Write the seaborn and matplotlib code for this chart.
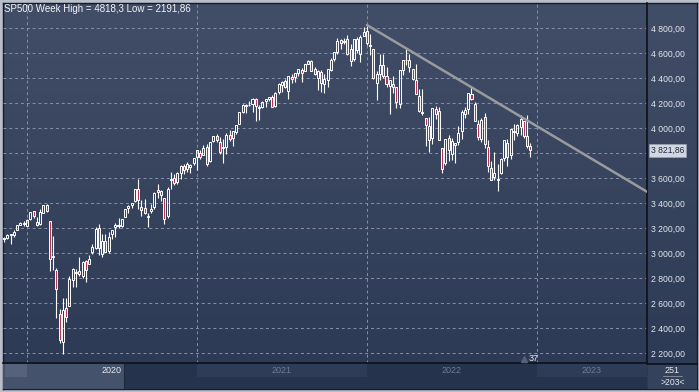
import numpy as np
import pandas as pd
import matplotlib
matplotlib.use("Agg")
import matplotlib.pyplot as plt
import matplotlib.transforms as mtrans
from matplotlib.colors import LinearSegmentedColormap
from matplotlib.lines import Line2D
import seaborn as sns

# weekly SP500 candles, week of 18 Nov 2019 up to week of 19 Dec 2022
opens = [3117, 3117, 3144, 3141, 3183, 3226, 3240,
         # 2020
         3218, 3271, 3333, 3248, 3235, 3318, 3380, 3257, 2974, 2863, 2509, 2291, 2558,
         2578, 2782, 2846, 2854, 2816, 2938, 2914, 3005, 3038, 3199, 2994, 3094, 3018,
         3155, 3205, 3224, 3219, 3289, 3356, 3380, 3418, 3509, 3370, 3363, 3285, 3335,
         3367, 3500, 3494, 3441, 3296, 3583, 3600, 3566, 3641, 3694, 3675, 3684, 3723,
         # 2021
         3764, 3803, 3781, 3851, 3732, 3892, 3939, 3886, 3842, 3844, 3942, 3916, 3969,
         4034, 4130, 4179, 4185, 4191, 4228, 4169, 4170, 4216, 4229, 4248, 4174, 4285,
         4344, 4373, 4296, 4409, 4406, 4437, 4461, 4454, 4514, 4535, 4474, 4402, 4450,
         4348, 4385, 4463, 4554, 4610, 4702, 4689, 4712, 4628, 4548, 4710, 4588, 4733,
         # 2022
         4778, 4655, 4632, 4357, 4432, 4506, 4412, 4332, 4354, 4327, 4189, 4462, 4541,
         4547, 4474, 4385, 4256, 4130, 4082, 4013, 3920, 4151, 4134, 3838, 3716, 3920,
         3792, 3880, 3884, 3972, 4113, 4155, 4270, 4195, 4034, 3910, 4084, 3849, 3682,
         3610, 3591, 3638, 3762, 3881, 3780, 3977, 3956, 4005, 4052, 3939, 3854]
highs = [3127, 3154, 3151, 3183, 3226, 3248, 3259,
         3268, 3330, 3337, 3285, 3348, 3385, 3393, 3259, 3136, 2883, 2553, 2637, 2641,
         2819, 2880, 2868, 2965, 2932, 2945, 2980, 3068, 3211, 3233, 3155, 3155, 3165,
         3186, 3236, 3280, 3272, 3352, 3387, 3399, 3509, 3588, 3425, 3429, 3320, 3393,
         3485, 3550, 3502, 3441, 3529, 3646, 3628, 3645, 3700, 3712, 3726, 3711, 3760,
         3827, 3823, 3860, 3870, 3888, 3937, 3950, 3928, 3915, 3960, 3983, 3978, 4020,
         4130, 4191, 4195, 4219, 4238, 4238, 4187, 4219, 4234, 4249, 4262, 4286, 4356,
         4372, 4393, 4415, 4430, 4440, 4469, 4480, 4513, 4546, 4543, 4486, 4466, 4465,
         4429, 4475, 4559, 4608, 4718, 4714, 4718, 4744, 4672, 4713, 4731, 4740, 4808,
         4818.3, 4749, 4632, 4453, 4595, 4590, 4490, 4385, 4416, 4327, 4466, 4546, 4637,
         4594, 4475, 4513, 4308, 4308, 4082, 4090, 4159, 4177, 4169, 3838, 3913, 3946,
         3918, 3880, 4013, 4140, 4168, 4280, 4325, 4204, 4062, 4076, 4119, 3907, 3736,
         3806, 3713, 3762, 3905, 3911, 3993, 4028, 4034, 4100, 4053, 4101, 3877]
lows = [3091, 3111, 3070, 3124, 3181, 3224, 3212,
        3214, 3264, 3280, 3214, 3223, 3316, 3327, 2856, 2861, 2478, 2281, 2191.86, 2447,
        2575, 2730, 2727, 2816, 2798, 2767, 2912, 2988, 3032, 2984, 2966, 3004, 2999,
        3115, 3127, 3200, 3204, 3284, 3318, 3363, 3409, 3349, 3293, 3314, 3209, 3323,
        3354, 3441, 3413, 3233, 3280, 3512, 3543, 3553, 3595, 3633, 3648, 3636, 3707,
        3663, 3749, 3781, 3694, 3726, 3885, 3885, 3789, 3723, 3795, 3894, 3853, 3948,
        4034, 4118, 4118, 4177, 4125, 4056, 4061, 4156, 4168, 4213, 4165, 4165, 4272,
        4290, 4321, 4233, 4360, 4368, 4417, 4367, 4452, 4513, 4458, 4427, 4306, 4289,
        4279, 4329, 4459, 4537, 4595, 4630, 4672, 4585, 4495, 4532, 4600, 4531, 4733,
        4663, 4582, 4395, 4223, 4380, 4401, 4329, 4115, 4279, 4157, 4162, 4424, 4506,
        4451, 4381, 4269, 4124, 4107, 3858, 3811, 3875, 4074, 3900, 3637, 3705, 3738,
        3742, 3722, 3863, 3913, 4079, 4112, 4220, 4057, 3907, 3887, 3837, 3647, 3585,
        3585, 3492, 3632, 3733, 3698, 3750, 3906, 3938, 3940, 3919, 3838, 3765]
closes = [3110, 3141, 3146, 3169, 3221, 3240, 3235,
          3265, 3330, 3295, 3226, 3328, 3380, 3338, 2954, 2972, 2711, 2305, 2541, 2489,
          2790, 2875, 2837, 2831, 2930, 2864, 2955, 3044, 3194, 3041, 3098, 3009, 3130,
          3185, 3225, 3216, 3271, 3351, 3373, 3397, 3508, 3427, 3341, 3319, 3298, 3348,
          3477, 3484, 3465, 3270, 3510, 3585, 3558, 3638, 3699, 3663, 3709, 3703, 3756,
          3825, 3768, 3841, 3714, 3887, 3934, 3907, 3811, 3842, 3943, 3913, 3975, 4020,
          4129, 4185, 4180, 4181, 4233, 4174, 4156, 4204, 4230, 4247, 4166, 4281, 4352,
          4370, 4327, 4412, 4395, 4437, 4468, 4442, 4509, 4535, 4459, 4433, 4455, 4357,
          4391, 4471, 4545, 4605, 4697, 4683, 4698, 4595, 4538, 4712, 4621, 4725, 4766,
          4677, 4663, 4398, 4432, 4501, 4419, 4349, 4385, 4329, 4204, 4463, 4543, 4546,
          4488, 4393, 4272, 4132, 4123, 4024, 3901, 4158, 4109, 3901, 3675, 3912, 3825,
          3899, 3863, 3962, 4130, 4145, 4280, 4228, 4058, 3924, 4067, 3873, 3693, 3586,
          3640, 3583, 3753, 3901, 3771, 3993, 3965, 4027, 4072, 3934, 3852, 3821.86]

years = ["2020", "2021", "2022", "2023"]
year_start = [7, 59, 111, 163]          # candle index of first week in each year
price_ticks = list(range(2200, 4801, 200))
trend_x = [111, 196.7]
trend_y = [4824, 3490]
last_price = 3821.86

df = pd.DataFrame({"open": opens, "high": highs, "low": lows, "close": closes})
df["x"] = np.arange(len(df))
df["up"] = df["close"] >= df["open"]
df["top"] = df[["open", "close"]].max(axis=1)
df["bot"] = df[["open", "close"]].min(axis=1)

sns.set_style("dark")
plt.rcParams["font.family"] = ["Liberation Sans", "DejaVu Sans"]

W, H = 699, 392
XMIN, XMAX = -0.34, 196.7


def box(x0, y0, x1, y1):
    return [x0 / W, 1 - y1 / H, (x1 - x0) / W, (y1 - y0) / H]


fig = plt.figure(figsize=(W / 100, H / 100), dpi=100, facecolor="#b8bfca")

# dark gradient panel behind everything
bg = fig.add_axes(box(3, 3, 697, 389))
cmap = LinearSegmentedColormap.from_list("bg", ["#424e67", "#2c3954"])
bg.imshow(np.linspace(0, 1, 256).reshape(-1, 1), aspect="auto", cmap=cmap,
          extent=(0, 1, 0, 1))
bg.set_xticks([])
bg.set_yticks([])
for s in bg.spines.values():
    s.set_color("#161b26")
    s.set_linewidth(1)

ax = fig.add_axes(box(3, 3, 647, 363))
ax.set_facecolor("none")
ax.set_xlim(XMIN, XMAX)
ax.set_ylim(2120, 5000)
ax.set_axisbelow(True)

ax.set_xticks(year_start)
ax.set_yticks(price_ticks)
ax.set_yticklabels([f"{v:,.2f}".replace(",", " ").replace(".", ",") for v in price_ticks])
ax.yaxis.tick_right()
ax.tick_params(axis="x", length=0, labelbottom=False)
ax.tick_params(axis="y", length=0, pad=3, labelsize=6.2, labelcolor="#e4e8ef")
ax.grid(True, color="#8792aa", ls=(0, (3, 3)), lw=0.7)
for k in ["left", "top"]:
    ax.spines[k].set_visible(False)
for k in ["right", "bottom"]:
    ax.spines[k].set_color("#0d1017")
    ax.spines[k].set_linewidth(1.2)

# candles
ax.vlines(df["x"], df["top"], df["high"], color="white", lw=0.8, zorder=2)
ax.vlines(df["x"], df["low"], df["bot"], color="white", lw=0.8, zorder=2)
heights = np.maximum(df["top"] - df["bot"], 5)
ax.bar(df["x"], heights, bottom=df["bot"], width=0.62,
       color=np.where(df["up"], "none", "#b8334f"), edgecolor="white",
       linewidth=0.7, zorder=3)

sns.lineplot(x=trend_x, y=trend_y, ax=ax, color="#9a9b9f", lw=1.8, zorder=4)

# last price box
tr = mtrans.blended_transform_factory(ax.transAxes, ax.transData)
ax.text(1.006, last_price, "3 821,86", transform=tr, ha="left", va="center",
        fontsize=6.2, color="#1f2b44", zorder=6, clip_on=False,
        bbox=dict(boxstyle="square,pad=0.25", fc="#d3d8e0", ec="#9aa3b3", lw=0.5))

ax.plot([159.2], [2148], marker="^", ms=4, color="#56607a", zorder=5, clip_on=False)
ax.text(160.6, 2158, "37", fontsize=6.5, color="#e6eaf0", va="center", ha="left")

fig.text(4 / W, 1 - 9 / H, "SP500 Week High = 4818,3 Low = 2191,86", fontsize=7,
         color="#f2f4f8", va="center", ha="left")

fig.add_artist(Line2D([647 / W, 697 / W], [1 - 363.5 / H] * 2, color="#0d1017", lw=1.2))

# time bar under the chart
tb = fig.add_axes(box(3, 364, 647, 389))
tb.set_facecolor("#26334d")
tb.set_xlim(XMIN, XMAX)
tb.set_ylim(0, 1)
tb.set_xticks([])
tb.set_yticks([])
for s in tb.spines.values():
    s.set_visible(False)
tb.axvspan(year_start[1], year_start[2], ymin=0.48, ymax=1, color="#2f3c57", lw=0)
tb.axvspan(year_start[3], XMAX, ymin=0.48, ymax=1, color="#2f3c57", lw=0)
tb.axvspan(XMIN, 36.7, color="#45526b", lw=0)
tb.axvspan(0.3, year_start[0], ymin=0.48, ymax=1, color="#56627b", lw=0)
tb.axvline(36.7, color="#1f2a40", lw=0.8)
centers = [(year_start[0] + year_start[1]) / 2, (year_start[1] + year_start[2]) / 2,
           (year_start[2] + year_start[3]) / 2, (year_start[3] + XMAX) / 2]
for i, (c, lab) in enumerate(zip(centers, years)):
    tb.text(c, 0.74, lab, ha="center", va="center", fontsize=6.5,
            color="#e8ebf1" if i == 0 else "#6f7c95")

cb = fig.add_axes(box(648, 364, 697, 389))
cb.set_facecolor("#34425c")
cb.set_xticks([])
cb.set_yticks([])
for s in cb.spines.values():
    s.set_visible(False)
cb.text(0.5, 0.74, "251", ha="center", va="center", fontsize=6.5, color="#e8ebf1")
cb.plot([0.3, 0.7], [0.52, 0.52], color="#8c96a8", lw=0.6)
cb.text(0.5, 0.26, ">203<", ha="center", va="center", fontsize=6.2, color="#e8ebf1")
cb.set_xlim(0, 1)
cb.set_ylim(0, 1)

fig.savefig("out.png", dpi=100, facecolor=fig.get_facecolor())
